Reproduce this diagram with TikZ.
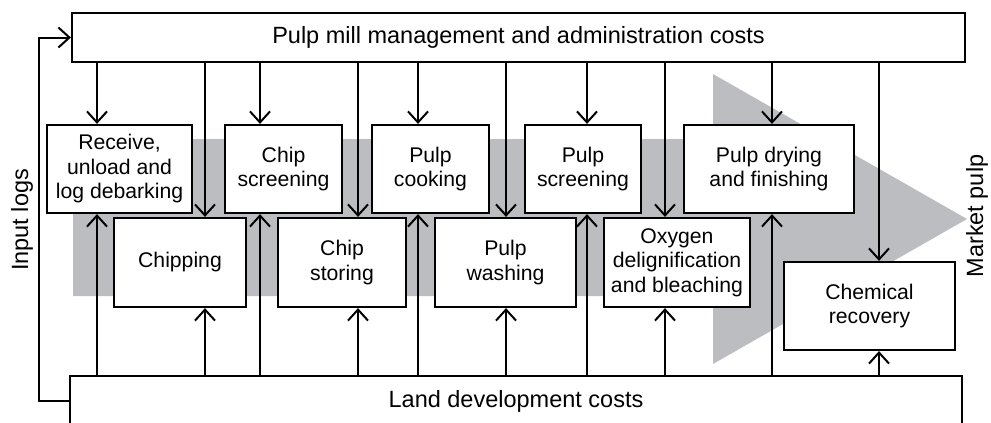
\documentclass[tikz,border=0pt]{standalone}
\usepackage{fontspec}
\setmainfont{Liberation Sans}
\usepackage{tikz}
\usetikzlibrary{arrows.meta,positioning,calc}
\definecolor{bandgray}{RGB}{188,189,192}
\begin{document}
\begin{tikzpicture} [
  x=1pt, y=-1pt,
  box/.style= {draw,line width=2.2pt,fill=white,inner sep=0,align=center,font=\fontsize{21.2}{24.5}\selectfont},
  wide box/.style= {box,font=\fontsize{23.5}{27}\selectfont},
  side label/.style= {rotate=90,inner sep=0,font=\fontsize{23.5}{27}\selectfont},
  arr/.style={line width=2pt,-{Straight Barb[length=11pt,width=20pt]}}
]
\useasboundingbox (0,0) rectangle (991,423);
\clip (0,0) rectangle (991,423);
\fill[bandgray] (73,139) -- (713,139) -- (713,74) -- (967,219) -- (713,364) -- (713,296) -- (73,296) -- cycle;
\node (mgmt) [wide box,minimum width=893,minimum height=49] at (518.5,37.5) {Pulp mill management and administration costs};
\node (land) [wide box,minimum width=892,minimum height=50] at (516,401) {Land development costs};
\node (recv) [box,minimum width=145,minimum height=88] at (119.5,169) {Receive,\\unload and\\log debarking};
\node (chipscr) [box,minimum width=117,minimum height=88] at (283.5,169) {Chip\\screening};
\node (cook) [box,minimum width=117,minimum height=88] at (430.5,169) {Pulp\\cooking};
\node (pulpscr) [box,minimum width=116,minimum height=88] at (583,169) {Pulp\\screening};
\node (dry) [box,minimum width=170,minimum height=88] at (769,169) {Pulp drying\\and finishing};
\node (chip) [box,minimum width=132,minimum height=89] at (180,262.5) {Chipping};
\node (store) [box,minimum width=128,minimum height=89] at (342,262.5) {Chip\\storing};
\node (wash) [box,minimum width=141,minimum height=89] at (505.5,262.5) {Pulp\\washing};
\node (oxy) [box,minimum width=146,minimum height=89] at (677,262.5) {Oxygen\\delignification\\and bleaching};
\node (chem) [box,minimum width=171,minimum height=88] at (869.5,306) {Chemical\\recovery};
\node (logs) [side label] at (22,220) {Input logs};
\node (market) [side label] at (977,216) {Market pulp};
\foreach \x/\n in {97/recv,205/chip,260/chipscr,358/store,418/cook,506/wash,587/pulpscr,665/oxy,772/dry,879/chem} {
  \draw[arr] (mgmt.south -| \x,0) -- (\n.north -| \x,0);
  \draw[arr] (land.north -| \x,0) -- (\n.south -| \x,0);
}
\draw[arr] (land.west) -- ++(-30,0) |- (mgmt.west);
\end{tikzpicture}
\end{document}
